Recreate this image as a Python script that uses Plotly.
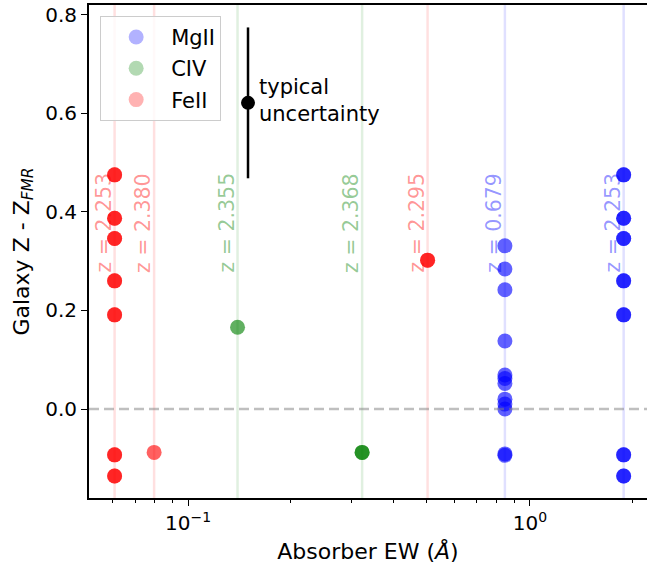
import numpy as np
import plotly.graph_objects as go

# ---------------- data ----------------
# absorber systems: equivalent width (Angstrom), ion, absorber redshift
sys_ew = [0.061, 0.0796, 0.1396, 0.323, 0.502, 0.845, 1.88]
sys_ion = ["FeII", "FeII", "CIV", "CIV", "FeII", "MgII", "MgII"]
sys_z = ["2.253", "2.380", "2.355", "2.368", "2.295", "0.679", "2.253"]

# galaxies (Galaxy Z - Z_FMR) per ion, plotted at the absorber EW (overlapping points repeated)
mgii_ew = [0.845] * 12 + [1.88] * 14
mgii_dz = [0.331, 0.284, 0.242, 0.138, 0.069, 0.062, 0.052, 0.020, 0.010, 0.000, -0.091, -0.094,
           0.475, 0.387, 0.346, 0.260, 0.191, -0.093, -0.136,
           0.475, 0.387, 0.346, 0.260, 0.191, -0.093, -0.136]
civ_ew = [0.1396, 0.323, 0.323]
civ_dz = [0.166, -0.088, -0.088]
feii_ew = [0.061] * 14 + [0.0796] + [0.502, 0.502]
feii_dz = [0.475, 0.387, 0.346, 0.260, 0.191, -0.093, -0.136,
           0.475, 0.387, 0.346, 0.260, 0.191, -0.093, -0.136,
           -0.088, 0.302, 0.302]

ion_names = ["MgII", "CIV", "FeII"]
ion_rgb = {"MgII": "0,0,255", "CIV": "0,128,0", "FeII": "255,0,0"}

typ_ew = [0.1498]
typ_dz = [0.621]
typ_err = [0.153]

x_ticks = [0.1, 1.0]
x_ticktext = ["10<sup>−1</sup>", "10<sup>0</sup>"]
x_minor = [0.06, 0.07, 0.08, 0.09, 0.2, 0.3, 0.4, 0.5, 0.6, 0.7, 0.8, 0.9, 2.0]
y_ticks = [0.0, 0.2, 0.4, 0.6, 0.8]

FONT = "DejaVu Sans"
fig = go.Figure()

# legend proxies (light)
for ion in ion_names:
    fig.add_trace(go.Scatter(x=[None], y=[None], mode="markers", name=ion, legendgroup=ion,
                             marker=dict(size=15, color=f"rgba({ion_rgb[ion]},0.3)"),
                             showlegend=True))

# vertical lines + labels
shapes = []
annotations = []
for ew, ion, z in zip(sys_ew, sys_ion, sys_z):
    shapes.append(dict(type="line", xref="x", yref="paper", x0=ew, x1=ew, y0=0, y1=1,
                       line=dict(color=f"rgba({ion_rgb[ion]},0.12)", width=2.5), layer="below"))
    annotations.append(dict(x=np.log10(ew), y=0.272, xref="x", yref="y", text=f"z = {z}",
                            textangle=-90, showarrow=False, xanchor="right", yanchor="bottom",
                            xshift=3, font=dict(family=FONT, size=20.5, color=f"rgba({ion_rgb[ion]},0.42)")))

# zero line
shapes.append(dict(type="line", xref="paper", yref="y", x0=0, x1=1, y0=0, y1=0,
                   line=dict(color="rgba(128,128,128,0.5)", width=2.5, dash="10px,5px")))

series = {"MgII": (mgii_ew, mgii_dz), "CIV": (civ_ew, civ_dz), "FeII": (feii_ew, feii_dz)}
for ion in ion_names:
    xs, ys = series[ion]
    fig.add_trace(go.Scatter(x=xs, y=ys, mode="markers", showlegend=False,
                             marker=dict(size=15, color=f"rgba({ion_rgb[ion]},0.62)",
                                         line=dict(width=0))))

# typical uncertainty
fig.add_trace(go.Scatter(x=typ_ew, y=typ_dz, mode="markers", showlegend=False,
                         marker=dict(size=14, color="black"),
                         error_y=dict(type="data", array=typ_err, color="black", thickness=2.5, width=0)))
annotations.append(dict(x=np.log10(typ_ew[0]), y=typ_dz[0], xref="x", yref="y",
                        text="typical<br>uncertainty", showarrow=False, xanchor="left", yanchor="middle",
                        align="left", xshift=9, yshift=2, font=dict(family=FONT, size=21, color="black")))

W, H = 647, 572
fig.update_layout(
    width=W, height=H,
    margin=dict(l=89, r=0, t=5, b=74),
    plot_bgcolor="white", paper_bgcolor="white",
    font=dict(family=FONT, size=20, color="black"),
    shapes=shapes, annotations=annotations,
    legend=dict(x=0.02, y=0.978, xanchor="left", yanchor="top",
                bgcolor="rgba(255,255,255,0.8)", bordercolor="rgb(204,204,204)", borderwidth=1,
                font=dict(family=FONT, size=21), itemsizing="trace", itemwidth=60,
                tracegroupgap=1),
)
fig.update_xaxes(type="log", range=[np.log10(0.05134), np.log10(2.2)],
                 tickmode="array", tickvals=x_ticks, ticktext=x_ticktext,
                 ticks="outside", ticklen=6, tickwidth=1.3, tickcolor="black",
                 tickfont=dict(family=FONT, size=20),
                 minor=dict(tickmode="array", tickvals=x_minor, ticks="outside", ticklen=3.5,
                            tickwidth=1, tickcolor="black", showgrid=False),
                 showgrid=False, zeroline=False, showline=True, linecolor="black", linewidth=1.8,
                 mirror=True,
                 title=dict(text="Absorber EW (<i>Å</i>)", font=dict(family=FONT, size=22), standoff=10))
fig.update_yaxes(range=[-0.1805, 0.8195], tickmode="array", tickvals=y_ticks,
                 ticktext=[f"{v:.1f}" for v in y_ticks],
                 ticks="outside", ticklen=6, tickwidth=1.3, tickcolor="black",
                 tickfont=dict(family=FONT, size=20),
                 showgrid=False, zeroline=False, showline=True, linecolor="black", linewidth=1.8,
                 mirror=False,
                 title=dict(text="Galaxy Z - Z<sub><i>FMR</i></sub>", font=dict(family=FONT, size=22),
                            standoff=10))

fig.write_html("out.html")
